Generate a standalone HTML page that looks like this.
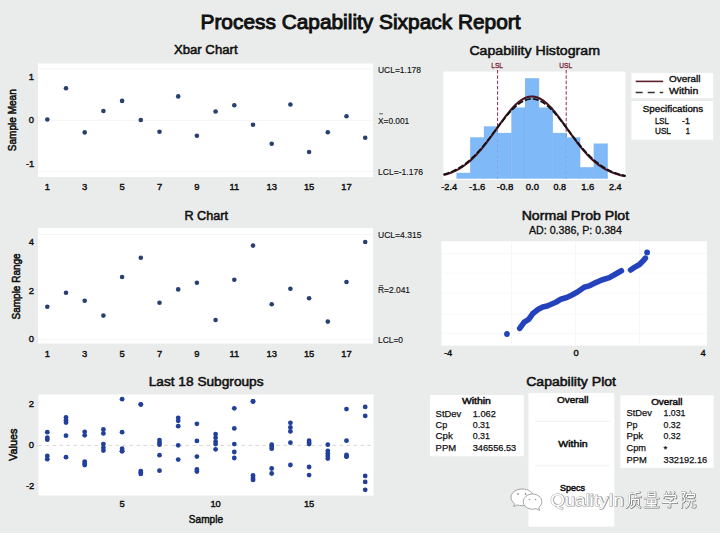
<!DOCTYPE html>
<html><head><meta charset="utf-8"><style>
html,body{margin:0;padding:0;background:#eaeceb;}
body{width:720px;height:533px;overflow:hidden;}
svg{display:block;font-family:"Liberation Sans", sans-serif;}
</style></head><body>
<svg width="720" height="533" viewBox="0 0 720 533">
<rect width="720" height="533" fill="#eaeceb"/>
<text x="200.5" y="29.1" font-size="20.6" text-anchor="start" fill="#111" stroke="#111" stroke-width="0.95" textLength="320.0" lengthAdjust="spacingAndGlyphs" >Process Capability Sixpack Report</text>
<rect x="38" y="63.5" width="335" height="113.5" fill="#fff"/>
<line x1="38" y1="69" x2="373" y2="69" stroke="#f4f5f5" stroke-width="1"/>
<line x1="38" y1="120.3" x2="373" y2="120.3" stroke="#f4f5f5" stroke-width="1"/>
<line x1="38" y1="171.6" x2="373" y2="171.6" stroke="#f4f5f5" stroke-width="1"/>
<text x="173.9" y="54.2" font-size="12.5" text-anchor="start" fill="#111" stroke="#111" stroke-width="0.52" textLength="63.7" lengthAdjust="spacingAndGlyphs" >Xbar Chart</text>
<circle cx="47.3" cy="119.5" r="2.3" fill="#283f72"/>
<circle cx="66.0" cy="88.3" r="2.3" fill="#283f72"/>
<circle cx="84.7" cy="132.4" r="2.3" fill="#283f72"/>
<circle cx="103.4" cy="111" r="2.3" fill="#283f72"/>
<circle cx="122.1" cy="100.9" r="2.3" fill="#283f72"/>
<circle cx="140.8" cy="120" r="2.3" fill="#283f72"/>
<circle cx="159.5" cy="131.8" r="2.3" fill="#283f72"/>
<circle cx="178.2" cy="96.4" r="2.3" fill="#283f72"/>
<circle cx="196.9" cy="135.8" r="2.3" fill="#283f72"/>
<circle cx="215.6" cy="111.5" r="2.3" fill="#283f72"/>
<circle cx="234.3" cy="105.2" r="2.3" fill="#283f72"/>
<circle cx="253.0" cy="124.7" r="2.3" fill="#283f72"/>
<circle cx="271.7" cy="143.75" r="2.3" fill="#283f72"/>
<circle cx="290.4" cy="104.5" r="2.3" fill="#283f72"/>
<circle cx="309.1" cy="152" r="2.3" fill="#283f72"/>
<circle cx="327.8" cy="132.3" r="2.3" fill="#283f72"/>
<circle cx="346.5" cy="116.3" r="2.3" fill="#283f72"/>
<circle cx="365.2" cy="137.8" r="2.3" fill="#283f72"/>
<text x="47.3" y="190.4" font-size="9.4" text-anchor="middle" fill="#111" stroke="#111" stroke-width="0.42" >1</text>
<text x="84.69999999999999" y="190.4" font-size="9.4" text-anchor="middle" fill="#111" stroke="#111" stroke-width="0.42" >3</text>
<text x="122.1" y="190.4" font-size="9.4" text-anchor="middle" fill="#111" stroke="#111" stroke-width="0.42" >5</text>
<text x="159.5" y="190.4" font-size="9.4" text-anchor="middle" fill="#111" stroke="#111" stroke-width="0.42" >7</text>
<text x="196.89999999999998" y="190.4" font-size="9.4" text-anchor="middle" fill="#111" stroke="#111" stroke-width="0.42" >9</text>
<text x="234.3" y="190.4" font-size="9.4" text-anchor="middle" fill="#111" stroke="#111" stroke-width="0.42" >11</text>
<text x="271.7" y="190.4" font-size="9.4" text-anchor="middle" fill="#111" stroke="#111" stroke-width="0.42" >13</text>
<text x="309.1" y="190.4" font-size="9.4" text-anchor="middle" fill="#111" stroke="#111" stroke-width="0.42" >15</text>
<text x="346.5" y="190.4" font-size="9.4" text-anchor="middle" fill="#111" stroke="#111" stroke-width="0.42" >17</text>
<text x="34" y="79.9" font-size="9.4" text-anchor="end" fill="#111" stroke="#111" stroke-width="0.42" >1</text>
<text x="34" y="123" font-size="9.4" text-anchor="end" fill="#111" stroke="#111" stroke-width="0.42" >0</text>
<text x="34.3" y="167.2" font-size="9.4" text-anchor="end" fill="#111" stroke="#111" stroke-width="0.42" >-1</text>
<text transform="translate(15.6,120.2) rotate(-90)" font-size="11" text-anchor="middle" fill="#111" stroke="#111" stroke-width="0.55" textLength="62" lengthAdjust="spacingAndGlyphs">Sample Mean</text>
<text x="378" y="72.6" font-size="9.2" text-anchor="start" fill="#111" stroke="#111" stroke-width="0.15" textLength="43" lengthAdjust="spacingAndGlyphs" >UCL=1.178</text>
<text x="378" y="123.7" font-size="9.2" text-anchor="start" fill="#111" stroke="#111" stroke-width="0.15" textLength="31.2" lengthAdjust="spacingAndGlyphs" >X=0.001</text>
<line x1="379.2" y1="113.8" x2="383" y2="113.8" stroke="#333" stroke-width="0.8"/>
<text x="378" y="175" font-size="9.2" text-anchor="start" fill="#111" stroke="#111" stroke-width="0.15" textLength="45" lengthAdjust="spacingAndGlyphs" >LCL=-1.176</text>
<rect x="38" y="228" width="335" height="115.5" fill="#fff"/>
<line x1="38" y1="234.5" x2="373" y2="234.5" stroke="#f4f5f5" stroke-width="1"/>
<line x1="38" y1="339.4" x2="373" y2="339.4" stroke="#f4f5f5" stroke-width="1"/>
<text x="184.4" y="219.7" font-size="12.5" text-anchor="start" fill="#111" stroke="#111" stroke-width="0.52" textLength="43.6" lengthAdjust="spacingAndGlyphs" >R Chart</text>
<circle cx="47.3" cy="306.7" r="2.3" fill="#283f72"/>
<circle cx="66.0" cy="292.8" r="2.3" fill="#283f72"/>
<circle cx="84.7" cy="300.8" r="2.3" fill="#283f72"/>
<circle cx="103.4" cy="315.6" r="2.3" fill="#283f72"/>
<circle cx="122.1" cy="277" r="2.3" fill="#283f72"/>
<circle cx="140.8" cy="257.8" r="2.3" fill="#283f72"/>
<circle cx="159.5" cy="302.8" r="2.3" fill="#283f72"/>
<circle cx="178.2" cy="289.4" r="2.3" fill="#283f72"/>
<circle cx="196.9" cy="282.8" r="2.3" fill="#283f72"/>
<circle cx="215.6" cy="320" r="2.3" fill="#283f72"/>
<circle cx="234.3" cy="279.7" r="2.3" fill="#283f72"/>
<circle cx="253.0" cy="245.6" r="2.3" fill="#283f72"/>
<circle cx="271.7" cy="304.3" r="2.3" fill="#283f72"/>
<circle cx="290.4" cy="288.7" r="2.3" fill="#283f72"/>
<circle cx="309.1" cy="298.3" r="2.3" fill="#283f72"/>
<circle cx="327.8" cy="321.6" r="2.3" fill="#283f72"/>
<circle cx="346.5" cy="282" r="2.3" fill="#283f72"/>
<circle cx="365.2" cy="242" r="2.3" fill="#283f72"/>
<text x="47.3" y="357.2" font-size="9.4" text-anchor="middle" fill="#111" stroke="#111" stroke-width="0.42" >1</text>
<text x="84.69999999999999" y="357.2" font-size="9.4" text-anchor="middle" fill="#111" stroke="#111" stroke-width="0.42" >3</text>
<text x="122.1" y="357.2" font-size="9.4" text-anchor="middle" fill="#111" stroke="#111" stroke-width="0.42" >5</text>
<text x="159.5" y="357.2" font-size="9.4" text-anchor="middle" fill="#111" stroke="#111" stroke-width="0.42" >7</text>
<text x="196.89999999999998" y="357.2" font-size="9.4" text-anchor="middle" fill="#111" stroke="#111" stroke-width="0.42" >9</text>
<text x="234.3" y="357.2" font-size="9.4" text-anchor="middle" fill="#111" stroke="#111" stroke-width="0.42" >11</text>
<text x="271.7" y="357.2" font-size="9.4" text-anchor="middle" fill="#111" stroke="#111" stroke-width="0.42" >13</text>
<text x="309.1" y="357.2" font-size="9.4" text-anchor="middle" fill="#111" stroke="#111" stroke-width="0.42" >15</text>
<text x="346.5" y="357.2" font-size="9.4" text-anchor="middle" fill="#111" stroke="#111" stroke-width="0.42" >17</text>
<text x="34" y="245.4" font-size="9.4" text-anchor="end" fill="#111" stroke="#111" stroke-width="0.42" >4</text>
<text x="34" y="294" font-size="9.4" text-anchor="end" fill="#111" stroke="#111" stroke-width="0.42" >2</text>
<text x="34" y="341.8" font-size="9.4" text-anchor="end" fill="#111" stroke="#111" stroke-width="0.42" >0</text>
<text transform="translate(20.1,286.4) rotate(-90)" font-size="11" text-anchor="middle" fill="#111" stroke="#111" stroke-width="0.55" textLength="66" lengthAdjust="spacingAndGlyphs">Sample Range</text>
<text x="378" y="238.3" font-size="9.2" text-anchor="start" fill="#111" stroke="#111" stroke-width="0.15" textLength="43.5" lengthAdjust="spacingAndGlyphs" >UCL=4.315</text>
<text x="378" y="292.9" font-size="9.2" text-anchor="start" fill="#111" stroke="#111" stroke-width="0.15" textLength="32" lengthAdjust="spacingAndGlyphs" >R=2.041</text>
<line x1="379.2" y1="285.6" x2="383.2" y2="285.6" stroke="#333" stroke-width="0.8"/>
<text x="378" y="342.5" font-size="9.2" text-anchor="start" fill="#111" stroke="#111" stroke-width="0.15" textLength="25" lengthAdjust="spacingAndGlyphs" >LCL=0</text>
<rect x="38.5" y="394.5" width="335" height="101" fill="#fff"/>
<line x1="38.5" y1="445.4" x2="373.5" y2="445.4" stroke="#d6d0cc" stroke-width="0.9" stroke-dasharray="3.5,3.5"/>
<text x="148.7" y="385.8" font-size="12.5" text-anchor="start" fill="#111" stroke="#111" stroke-width="0.52" textLength="114.9" lengthAdjust="spacingAndGlyphs" >Last 18 Subgroups</text>
<circle cx="47.3" cy="432.2" r="2.4" fill="#22409a"/>
<circle cx="47.3" cy="437.7" r="2.4" fill="#22409a"/>
<circle cx="47.3" cy="439.7" r="2.4" fill="#22409a"/>
<circle cx="47.3" cy="456" r="2.4" fill="#22409a"/>
<circle cx="47.3" cy="459.2" r="2.4" fill="#22409a"/>
<circle cx="66.0" cy="417.5" r="2.4" fill="#22409a"/>
<circle cx="66.0" cy="420.3" r="2.4" fill="#22409a"/>
<circle cx="66.0" cy="422.5" r="2.4" fill="#22409a"/>
<circle cx="66.0" cy="435.7" r="2.4" fill="#22409a"/>
<circle cx="66.0" cy="457.2" r="2.4" fill="#22409a"/>
<circle cx="84.7" cy="431.8" r="2.4" fill="#22409a"/>
<circle cx="84.7" cy="435.3" r="2.4" fill="#22409a"/>
<circle cx="84.7" cy="461.6" r="2.4" fill="#22409a"/>
<circle cx="84.7" cy="463.8" r="2.4" fill="#22409a"/>
<circle cx="84.7" cy="465" r="2.4" fill="#22409a"/>
<circle cx="103.4" cy="429.4" r="2.4" fill="#22409a"/>
<circle cx="103.4" cy="433.4" r="2.4" fill="#22409a"/>
<circle cx="103.4" cy="444.1" r="2.4" fill="#22409a"/>
<circle cx="103.4" cy="447.7" r="2.4" fill="#22409a"/>
<circle cx="103.4" cy="450.6" r="2.4" fill="#22409a"/>
<circle cx="122.1" cy="399.2" r="2.4" fill="#22409a"/>
<circle cx="122.1" cy="432.2" r="2.4" fill="#22409a"/>
<circle cx="122.1" cy="448.7" r="2.4" fill="#22409a"/>
<circle cx="122.1" cy="451.2" r="2.4" fill="#22409a"/>
<circle cx="122.1" cy="451.2" r="2.4" fill="#22409a"/>
<circle cx="140.8" cy="404.3" r="2.4" fill="#22409a"/>
<circle cx="140.8" cy="404.6" r="2.4" fill="#22409a"/>
<circle cx="140.8" cy="471.1" r="2.4" fill="#22409a"/>
<circle cx="140.8" cy="472.5" r="2.4" fill="#22409a"/>
<circle cx="140.8" cy="473.9" r="2.4" fill="#22409a"/>
<circle cx="159.5" cy="440.1" r="2.4" fill="#22409a"/>
<circle cx="159.5" cy="442.7" r="2.4" fill="#22409a"/>
<circle cx="159.5" cy="444.7" r="2.4" fill="#22409a"/>
<circle cx="159.5" cy="455.2" r="2.4" fill="#22409a"/>
<circle cx="159.5" cy="470.7" r="2.4" fill="#22409a"/>
<circle cx="178.2" cy="417.8" r="2.4" fill="#22409a"/>
<circle cx="178.2" cy="420.8" r="2.4" fill="#22409a"/>
<circle cx="178.2" cy="426.2" r="2.4" fill="#22409a"/>
<circle cx="178.2" cy="445.3" r="2.4" fill="#22409a"/>
<circle cx="178.2" cy="459.6" r="2.4" fill="#22409a"/>
<circle cx="196.9" cy="423.8" r="2.4" fill="#22409a"/>
<circle cx="196.9" cy="440.9" r="2.4" fill="#22409a"/>
<circle cx="196.9" cy="456.6" r="2.4" fill="#22409a"/>
<circle cx="196.9" cy="469.5" r="2.4" fill="#22409a"/>
<circle cx="196.9" cy="471.5" r="2.4" fill="#22409a"/>
<circle cx="215.6" cy="434.1" r="2.4" fill="#22409a"/>
<circle cx="215.6" cy="437.7" r="2.4" fill="#22409a"/>
<circle cx="215.6" cy="441.7" r="2.4" fill="#22409a"/>
<circle cx="215.6" cy="444.1" r="2.4" fill="#22409a"/>
<circle cx="215.6" cy="449.3" r="2.4" fill="#22409a"/>
<circle cx="234.3" cy="408.3" r="2.4" fill="#22409a"/>
<circle cx="234.3" cy="428.4" r="2.4" fill="#22409a"/>
<circle cx="234.3" cy="444.1" r="2.4" fill="#22409a"/>
<circle cx="234.3" cy="452" r="2.4" fill="#22409a"/>
<circle cx="234.3" cy="458" r="2.4" fill="#22409a"/>
<circle cx="253.0" cy="401.3" r="2.4" fill="#22409a"/>
<circle cx="253.0" cy="401.5" r="2.4" fill="#22409a"/>
<circle cx="253.0" cy="475.5" r="2.4" fill="#22409a"/>
<circle cx="253.0" cy="477.9" r="2.4" fill="#22409a"/>
<circle cx="253.0" cy="479.9" r="2.4" fill="#22409a"/>
<circle cx="271.7" cy="444.7" r="2.4" fill="#22409a"/>
<circle cx="271.7" cy="446.7" r="2.4" fill="#22409a"/>
<circle cx="271.7" cy="448.7" r="2.4" fill="#22409a"/>
<circle cx="271.7" cy="468.5" r="2.4" fill="#22409a"/>
<circle cx="271.7" cy="473.5" r="2.4" fill="#22409a"/>
<circle cx="290.4" cy="422.8" r="2.4" fill="#22409a"/>
<circle cx="290.4" cy="427.4" r="2.4" fill="#22409a"/>
<circle cx="290.4" cy="431.4" r="2.4" fill="#22409a"/>
<circle cx="290.4" cy="442.7" r="2.4" fill="#22409a"/>
<circle cx="290.4" cy="465" r="2.4" fill="#22409a"/>
<circle cx="309.1" cy="440.7" r="2.4" fill="#22409a"/>
<circle cx="309.1" cy="442.7" r="2.4" fill="#22409a"/>
<circle cx="309.1" cy="444.1" r="2.4" fill="#22409a"/>
<circle cx="309.1" cy="467" r="2.4" fill="#22409a"/>
<circle cx="309.1" cy="475.1" r="2.4" fill="#22409a"/>
<circle cx="327.8" cy="444.7" r="2.4" fill="#22409a"/>
<circle cx="327.8" cy="451" r="2.4" fill="#22409a"/>
<circle cx="327.8" cy="453.6" r="2.4" fill="#22409a"/>
<circle cx="327.8" cy="456" r="2.4" fill="#22409a"/>
<circle cx="327.8" cy="458.6" r="2.4" fill="#22409a"/>
<circle cx="346.5" cy="409.1" r="2.4" fill="#22409a"/>
<circle cx="346.5" cy="440.7" r="2.4" fill="#22409a"/>
<circle cx="346.5" cy="455" r="2.4" fill="#22409a"/>
<circle cx="346.5" cy="456.6" r="2.4" fill="#22409a"/>
<circle cx="346.5" cy="456.6" r="2.4" fill="#22409a"/>
<circle cx="365.2" cy="406.9" r="2.4" fill="#22409a"/>
<circle cx="365.2" cy="415.9" r="2.4" fill="#22409a"/>
<circle cx="365.2" cy="475.9" r="2.4" fill="#22409a"/>
<circle cx="365.2" cy="481.9" r="2.4" fill="#22409a"/>
<circle cx="365.2" cy="489.8" r="2.4" fill="#22409a"/>
<text x="122.1" y="507.3" font-size="9.4" text-anchor="middle" fill="#111" stroke="#111" stroke-width="0.42" >5</text>
<text x="215.59999999999997" y="507.3" font-size="9.4" text-anchor="middle" fill="#111" stroke="#111" stroke-width="0.42" >10</text>
<text x="309.1" y="507.3" font-size="9.4" text-anchor="middle" fill="#111" stroke="#111" stroke-width="0.42" >15</text>
<text x="34" y="407.2" font-size="9.4" text-anchor="end" fill="#111" stroke="#111" stroke-width="0.42" >2</text>
<text x="34" y="447.9" font-size="9.4" text-anchor="end" fill="#111" stroke="#111" stroke-width="0.42" >0</text>
<text x="34.3" y="488.9" font-size="9.4" text-anchor="end" fill="#111" stroke="#111" stroke-width="0.42" >-2</text>
<text x="188.8" y="522.5" font-size="11" text-anchor="start" fill="#111" stroke="#111" stroke-width="0.5" textLength="34.2" lengthAdjust="spacingAndGlyphs" >Sample</text>
<text transform="translate(17.2,444.8) rotate(-90)" font-size="11" text-anchor="middle" fill="#111" stroke="#111" stroke-width="0.55" textLength="32.5" lengthAdjust="spacingAndGlyphs">Values</text>
<text x="469.4" y="54.6" font-size="12.5" text-anchor="start" fill="#111" stroke="#111" stroke-width="0.52" textLength="130.6" lengthAdjust="spacingAndGlyphs" >Capability Histogram</text>
<rect x="443.4" y="71.6" width="182" height="108.4" fill="#fff"/>
<line x1="497.60" y1="70" x2="497.60" y2="178.7" stroke="#9a2a50" stroke-width="1" stroke-dasharray="3.5,1.8"/>
<line x1="566.20" y1="70" x2="566.20" y2="178.7" stroke="#9a2a50" stroke-width="1" stroke-dasharray="3.5,1.8"/>
<rect x="456.44" y="172.80" width="13.72" height="5.90" fill="#7fb9f7"/>
<line x1="470.16" y1="172.80" x2="470.16" y2="178.7" stroke="#70aaee" stroke-width="0.6"/>
<rect x="470.16" y="137.30" width="13.72" height="41.40" fill="#7fb9f7"/>
<line x1="483.88" y1="137.30" x2="483.88" y2="178.7" stroke="#70aaee" stroke-width="0.6"/>
<rect x="483.88" y="126.30" width="13.72" height="52.40" fill="#7fb9f7"/>
<line x1="497.60" y1="126.30" x2="497.60" y2="178.7" stroke="#70aaee" stroke-width="0.6"/>
<rect x="497.60" y="132.90" width="13.72" height="45.80" fill="#7fb9f7"/>
<line x1="511.32" y1="132.90" x2="511.32" y2="178.7" stroke="#70aaee" stroke-width="0.6"/>
<rect x="511.32" y="107.50" width="13.72" height="71.20" fill="#7fb9f7"/>
<line x1="525.04" y1="107.50" x2="525.04" y2="178.7" stroke="#70aaee" stroke-width="0.6"/>
<rect x="525.04" y="78.20" width="13.72" height="100.50" fill="#7fb9f7"/>
<line x1="538.76" y1="78.20" x2="538.76" y2="178.7" stroke="#70aaee" stroke-width="0.6"/>
<rect x="538.76" y="107.50" width="13.72" height="71.20" fill="#7fb9f7"/>
<line x1="552.48" y1="107.50" x2="552.48" y2="178.7" stroke="#70aaee" stroke-width="0.6"/>
<rect x="552.48" y="132.90" width="13.72" height="45.80" fill="#7fb9f7"/>
<line x1="566.20" y1="132.90" x2="566.20" y2="178.7" stroke="#70aaee" stroke-width="0.6"/>
<rect x="566.20" y="137.30" width="13.72" height="41.40" fill="#7fb9f7"/>
<line x1="579.92" y1="137.30" x2="579.92" y2="178.7" stroke="#70aaee" stroke-width="0.6"/>
<rect x="579.92" y="167.20" width="13.72" height="11.50" fill="#7fb9f7"/>
<line x1="593.64" y1="167.20" x2="593.64" y2="178.7" stroke="#70aaee" stroke-width="0.6"/>
<rect x="593.64" y="143.50" width="13.72" height="35.20" fill="#7fb9f7"/>
<line x1="607.36" y1="143.50" x2="607.36" y2="178.7" stroke="#70aaee" stroke-width="0.6"/>
<text x="491.2" y="68.4" font-size="8" text-anchor="start" fill="#7a1a3a" stroke="#7a1a3a" stroke-width="0.3" textLength="11.8" lengthAdjust="spacingAndGlyphs" >LSL</text>
<text x="559.3" y="68.4" font-size="8" text-anchor="start" fill="#7a1a3a" stroke="#7a1a3a" stroke-width="0.3" textLength="12.9" lengthAdjust="spacingAndGlyphs" >USL</text>
<polyline points="443.6,175.06 444.6,174.80 445.6,174.52 446.6,174.22 447.6,173.90 448.6,173.57 449.6,173.22 450.6,172.85 451.6,172.46 452.6,172.05 453.6,171.62 454.6,171.16 455.6,170.68 456.6,170.18 457.6,169.66 458.6,169.11 459.6,168.53 460.6,167.93 461.6,167.30 462.6,166.65 463.6,165.97 464.6,165.26 465.6,164.52 466.6,163.76 467.6,162.96 468.6,162.14 469.6,161.28 470.6,160.40 471.6,159.49 472.6,158.55 473.6,157.58 474.6,156.58 475.6,155.55 476.6,154.50 477.6,153.41 478.6,152.30 479.6,151.16 480.6,150.00 481.6,148.81 482.6,147.59 483.6,146.36 484.6,145.10 485.6,143.81 486.6,142.51 487.6,141.19 488.6,139.86 489.6,138.50 490.6,137.14 491.6,135.76 492.6,134.37 493.6,132.97 494.6,131.57 495.6,130.16 496.6,128.75 497.6,127.34 498.6,125.94 499.6,124.54 500.6,123.14 501.6,121.76 502.6,120.38 503.6,119.02 504.6,117.68 505.6,116.36 506.6,115.06 507.6,113.79 508.6,112.54 509.6,111.32 510.6,110.14 511.6,108.99 512.6,107.87 513.6,106.80 514.6,105.77 515.6,104.78 516.6,103.84 517.6,102.95 518.6,102.11 519.6,101.32 520.6,100.59 521.6,99.91 522.6,99.29 523.6,98.73 524.6,98.23 525.6,97.79 526.6,97.42 527.6,97.11 528.6,96.86 529.6,96.67 530.6,96.56 531.6,96.50 532.6,96.52 533.6,96.59 534.6,96.74 535.6,96.95 536.6,97.22 537.6,97.56 538.6,97.96 539.6,98.43 540.6,98.95 541.6,99.53 542.6,100.18 543.6,100.88 544.6,101.63 545.6,102.44 546.6,103.30 547.6,104.21 548.6,105.17 549.6,106.18 550.6,107.23 551.6,108.31 552.6,109.44 553.6,110.61 554.6,111.80 555.6,113.03 556.6,114.29 557.6,115.58 558.6,116.89 559.6,118.22 560.6,119.56 561.6,120.93 562.6,122.31 563.6,123.70 564.6,125.10 565.6,126.50 566.6,127.91 567.6,129.32 568.6,130.73 569.6,132.13 570.6,133.53 571.6,134.93 572.6,136.31 573.6,137.69 574.6,139.05 575.6,140.39 576.6,141.72 577.6,143.04 578.6,144.33 579.6,145.60 580.6,146.85 581.6,148.08 582.6,149.29 583.6,150.47 584.6,151.62 585.6,152.75 586.6,153.85 587.6,154.92 588.6,155.97 589.6,156.98 590.6,157.97 591.6,158.93 592.6,159.86 593.6,160.76 594.6,161.63 595.6,162.47 596.6,163.28 597.6,164.07 598.6,164.82 599.6,165.55 600.6,166.24 601.6,166.92 602.6,167.56 603.6,168.18 604.6,168.77 605.6,169.33 606.6,169.87 607.6,170.39 608.6,170.88 609.6,171.35 610.6,171.79 611.6,172.22 612.6,172.62 613.6,173.00 614.6,173.36 615.6,173.71 616.6,174.03 617.6,174.34 618.6,174.63 619.6,174.90 620.6,175.16 621.6,175.41 622.6,175.64 623.6,175.85 624.6,176.05 625.6,176.24" fill="none" stroke="#4a1420" stroke-width="2.1"/>
<polyline points="443.6,174.47 444.6,174.18 445.6,173.88 446.6,173.56 447.6,173.22 448.6,172.86 449.6,172.48 450.6,172.09 451.6,171.67 452.6,171.24 453.6,170.78 454.6,170.30 455.6,169.80 456.6,169.28 457.6,168.73 458.6,168.16 459.6,167.57 460.6,166.95 461.6,166.31 462.6,165.64 463.6,164.94 464.6,164.22 465.6,163.47 466.6,162.70 467.6,161.90 468.6,161.07 469.6,160.21 470.6,159.33 471.6,158.43 472.6,157.49 473.6,156.53 474.6,155.54 475.6,154.53 476.6,153.49 477.6,152.43 478.6,151.34 479.6,150.23 480.6,149.10 481.6,147.94 482.6,146.77 483.6,145.57 484.6,144.35 485.6,143.12 486.6,141.87 487.6,140.61 488.6,139.33 489.6,138.04 490.6,136.74 491.6,135.43 492.6,134.11 493.6,132.79 494.6,131.46 495.6,130.13 496.6,128.80 497.6,127.48 498.6,126.15 499.6,124.84 500.6,123.53 501.6,122.24 502.6,120.96 503.6,119.69 504.6,118.44 505.6,117.21 506.6,116.00 507.6,114.82 508.6,113.66 509.6,112.54 510.6,111.44 511.6,110.38 512.6,109.35 513.6,108.36 514.6,107.41 515.6,106.50 516.6,105.64 517.6,104.82 518.6,104.05 519.6,103.32 520.6,102.65 521.6,102.03 522.6,101.46 523.6,100.94 524.6,100.49 525.6,100.08 526.6,99.74 527.6,99.45 528.6,99.23 529.6,99.06 530.6,98.95 531.6,98.90 532.6,98.91 533.6,98.99 534.6,99.12 535.6,99.31 536.6,99.56 537.6,99.87 538.6,100.24 539.6,100.66 540.6,101.14 541.6,101.68 542.6,102.27 543.6,102.91 544.6,103.61 545.6,104.35 546.6,105.14 547.6,105.98 548.6,106.86 549.6,107.79 550.6,108.75 551.6,109.76 552.6,110.80 553.6,111.87 554.6,112.98 555.6,114.12 556.6,115.29 557.6,116.48 558.6,117.70 559.6,118.94 560.6,120.19 561.6,121.47 562.6,122.75 563.6,124.05 564.6,125.36 565.6,126.68 566.6,128.01 567.6,129.33 568.6,130.66 569.6,131.99 570.6,133.32 571.6,134.64 572.6,135.95 573.6,137.26 574.6,138.56 575.6,139.84 576.6,141.11 577.6,142.37 578.6,143.62 579.6,144.84 580.6,146.05 581.6,147.24 582.6,148.41 583.6,149.55 584.6,150.68 585.6,151.78 586.6,152.86 587.6,153.91 588.6,154.94 589.6,155.94 590.6,156.92 591.6,157.87 592.6,158.79 593.6,159.69 594.6,160.56 595.6,161.40 596.6,162.22 597.6,163.01 598.6,163.77 599.6,164.51 600.6,165.22 601.6,165.91 602.6,166.57 603.6,167.20 604.6,167.81 605.6,168.39 606.6,168.95 607.6,169.49 608.6,170.01 609.6,170.50 610.6,170.97 611.6,171.41 612.6,171.84 613.6,172.25 614.6,172.64 615.6,173.00 616.6,173.35 617.6,173.69 618.6,174.00 619.6,174.30 620.6,174.58 621.6,174.85 622.6,175.10 623.6,175.34 624.6,175.57 625.6,175.78" fill="none" stroke="#111" stroke-width="1.7" stroke-dasharray="6,2"/>
<text x="441.3" y="190.1" font-size="9.4" text-anchor="start" fill="#111" stroke="#111" stroke-width="0.42" textLength="15.9" lengthAdjust="spacingAndGlyphs" >-2.4</text>
<text x="469" y="190.1" font-size="9.4" text-anchor="start" fill="#111" stroke="#111" stroke-width="0.42" textLength="16.4" lengthAdjust="spacingAndGlyphs" >-1.6</text>
<text x="496.7" y="190.1" font-size="9.4" text-anchor="start" fill="#111" stroke="#111" stroke-width="0.42" textLength="16.7" lengthAdjust="spacingAndGlyphs" >-0.8</text>
<text x="525.8" y="190.1" font-size="9.4" text-anchor="start" fill="#111" stroke="#111" stroke-width="0.42" textLength="13.2" lengthAdjust="spacingAndGlyphs" >0.0</text>
<text x="553.5" y="190.1" font-size="9.4" text-anchor="start" fill="#111" stroke="#111" stroke-width="0.42" textLength="12.5" lengthAdjust="spacingAndGlyphs" >0.8</text>
<text x="581.2" y="190.1" font-size="9.4" text-anchor="start" fill="#111" stroke="#111" stroke-width="0.42" textLength="13.2" lengthAdjust="spacingAndGlyphs" >1.6</text>
<text x="608.9" y="190.1" font-size="9.4" text-anchor="start" fill="#111" stroke="#111" stroke-width="0.42" textLength="12.6" lengthAdjust="spacingAndGlyphs" >2.4</text>
<rect x="631.5" y="72.9" width="81.6" height="25.3" fill="#fff"/>
<line x1="635.7" y1="81.4" x2="663.2" y2="81.4" stroke="#5a2030" stroke-width="1.6"/>
<line x1="635.7" y1="92.6" x2="663.2" y2="92.6" stroke="#333" stroke-width="1.5" stroke-dasharray="7,5"/>
<text x="669" y="82.3" font-size="8.8" text-anchor="start" fill="#111" stroke="#111" stroke-width="0.35" textLength="31.4" lengthAdjust="spacingAndGlyphs" >Overall</text>
<text x="669" y="94" font-size="8.8" text-anchor="start" fill="#111" stroke="#111" stroke-width="0.35" textLength="29.3" lengthAdjust="spacingAndGlyphs" >Within</text>
<rect x="631.5" y="101" width="81.6" height="38.7" fill="#fff"/>
<text x="642.8" y="111.6" font-size="8.8" text-anchor="start" fill="#111" stroke="#111" stroke-width="0.35" textLength="60.4" lengthAdjust="spacingAndGlyphs" >Specifications</text>
<text x="655" y="123.6" font-size="8.8" text-anchor="start" fill="#111" stroke="#111" stroke-width="0.35" textLength="13.8" lengthAdjust="spacingAndGlyphs" >LSL</text>
<text x="682.1" y="123.6" font-size="8.8" text-anchor="start" fill="#111" stroke="#111" stroke-width="0.35" textLength="7.8" lengthAdjust="spacingAndGlyphs" >-1</text>
<text x="655" y="134.4" font-size="8.8" text-anchor="start" fill="#111" stroke="#111" stroke-width="0.35" textLength="15.9" lengthAdjust="spacingAndGlyphs" >USL</text>
<text x="685.7" y="134.4" font-size="8.8" text-anchor="start" fill="#111" stroke="#111" stroke-width="0.35" textLength="4.2" lengthAdjust="spacingAndGlyphs" >1</text>
<text x="521.7" y="219.8" font-size="12.5" text-anchor="start" fill="#111" stroke="#111" stroke-width="0.52" textLength="107.4" lengthAdjust="spacingAndGlyphs" >Normal Prob Plot</text>
<text x="529" y="234.2" font-size="10" text-anchor="start" fill="#111" stroke="#111" stroke-width="0.3" textLength="92.9" lengthAdjust="spacingAndGlyphs" >AD: 0.386, P: 0.384</text>
<rect x="441.5" y="241.3" width="265.5" height="104.3" fill="#fff"/>
<line x1="511.5" y1="241.3" x2="511.5" y2="345.6" stroke="#f7f7f9" stroke-width="1"/>
<line x1="575.6" y1="241.3" x2="575.6" y2="345.6" stroke="#f7f7f9" stroke-width="1"/>
<line x1="639.7" y1="241.3" x2="639.7" y2="345.6" stroke="#f7f7f9" stroke-width="1"/>
<line x1="441.5" y1="253.6" x2="707" y2="253.6" stroke="#f8f8fa" stroke-width="1"/>
<line x1="441.5" y1="273" x2="707" y2="273" stroke="#f8f8fa" stroke-width="1"/>
<line x1="441.5" y1="293" x2="707" y2="293" stroke="#f8f8fa" stroke-width="1"/>
<line x1="441.5" y1="313.9" x2="707" y2="313.9" stroke="#f8f8fa" stroke-width="1"/>
<line x1="441.5" y1="333.3" x2="707" y2="333.3" stroke="#f8f8fa" stroke-width="1"/>
<polyline points="519.7,328.4 524.2,322.2 528.7,319.4 532.6,313.8 538.3,309.3 542.8,307 547.3,306 551.8,304 556.3,302 560.8,299.2 566.7,297.5 571.5,295.2 577.4,292 584.2,287.2 590,285.6 595.8,282.6 601.7,280 609.4,277.6 615.3,274.2 621.4,270.8" fill="none" stroke="#2342bc" stroke-width="5.6" stroke-linecap="round" stroke-linejoin="round"/>
<polyline points="630.6,270 634.4,267.4 639.5,264.5 642.9,261.1 645.4,258.2" fill="none" stroke="#2342bc" stroke-width="5.6" stroke-linecap="round" stroke-linejoin="round"/>
<circle cx="507" cy="334" r="2.9" fill="#2342bc"/>
<circle cx="647.1" cy="252.5" r="2.9" fill="#2342bc"/>
<text x="448.1" y="356.4" font-size="9.4" text-anchor="middle" fill="#111" stroke="#111" stroke-width="0.42" >-4</text>
<text x="576" y="356.4" font-size="9.4" text-anchor="middle" fill="#111" stroke="#111" stroke-width="0.42" >0</text>
<text x="703" y="356.4" font-size="9.4" text-anchor="middle" fill="#111" stroke="#111" stroke-width="0.42" >4</text>
<text x="526.2" y="385.9" font-size="12.5" text-anchor="start" fill="#111" stroke="#111" stroke-width="0.52" textLength="89.8" lengthAdjust="spacingAndGlyphs" >Capability Plot</text>
<rect x="430" y="395" width="93.8" height="61.2" fill="#fff"/>
<text x="462" y="404.4" font-size="9.2" text-anchor="start" fill="#111" stroke="#111" stroke-width="0.5" textLength="28.8" lengthAdjust="spacingAndGlyphs" >Within</text>
<text x="435.6" y="416.6" font-size="9.9" text-anchor="start" fill="#111" stroke="#111" stroke-width="0.25" textLength="25.7" lengthAdjust="spacingAndGlyphs" >StDev</text>
<text x="472.7" y="416.6" font-size="9.9" text-anchor="start" fill="#111" stroke="#111" stroke-width="0.25" textLength="23.1" lengthAdjust="spacingAndGlyphs" >1.062</text>
<text x="435.6" y="427.95000000000005" font-size="9.9" text-anchor="start" fill="#111" stroke="#111" stroke-width="0.25" textLength="11.6" lengthAdjust="spacingAndGlyphs" >Cp</text>
<text x="472.7" y="427.95000000000005" font-size="9.9" text-anchor="start" fill="#111" stroke="#111" stroke-width="0.25" textLength="17.3" lengthAdjust="spacingAndGlyphs" >0.31</text>
<text x="435.6" y="439.3" font-size="9.9" text-anchor="start" fill="#111" stroke="#111" stroke-width="0.25" textLength="17.2" lengthAdjust="spacingAndGlyphs" >Cpk</text>
<text x="472.7" y="439.3" font-size="9.9" text-anchor="start" fill="#111" stroke="#111" stroke-width="0.25" textLength="17.3" lengthAdjust="spacingAndGlyphs" >0.31</text>
<text x="435.6" y="450.65000000000003" font-size="9.9" text-anchor="start" fill="#111" stroke="#111" stroke-width="0.25" textLength="20.5" lengthAdjust="spacingAndGlyphs" >PPM</text>
<text x="472.7" y="450.65000000000003" font-size="9.9" text-anchor="start" fill="#111" stroke="#111" stroke-width="0.25" textLength="43.5" lengthAdjust="spacingAndGlyphs" >346556.53</text>
<rect x="528.5" y="393" width="85.8" height="133.6" fill="#fff"/>
<line x1="535" y1="421.3" x2="610" y2="421.3" stroke="#f0f0f0" stroke-width="1"/>
<line x1="535" y1="465.8" x2="610" y2="465.8" stroke="#f0f0f0" stroke-width="1"/>
<text x="557" y="402.6" font-size="9.2" text-anchor="start" fill="#111" stroke="#111" stroke-width="0.5" textLength="31.4" lengthAdjust="spacingAndGlyphs" >Overall</text>
<text x="558.3" y="447.1" font-size="9.2" text-anchor="start" fill="#111" stroke="#111" stroke-width="0.5" textLength="29.3" lengthAdjust="spacingAndGlyphs" >Within</text>
<text x="559.9" y="491" font-size="9.2" text-anchor="start" fill="#111" stroke="#111" stroke-width="0.5" textLength="25.0" lengthAdjust="spacingAndGlyphs" >Specs</text>
<rect x="620.4" y="395.4" width="93.1" height="72.4" fill="#fff"/>
<text x="651.2" y="404.6" font-size="9.2" text-anchor="start" fill="#111" stroke="#111" stroke-width="0.5" textLength="31.2" lengthAdjust="spacingAndGlyphs" >Overall</text>
<text x="626.5" y="416.2" font-size="9.9" text-anchor="start" fill="#111" stroke="#111" stroke-width="0.25" textLength="25.5" lengthAdjust="spacingAndGlyphs" >StDev</text>
<text x="663.5" y="416.2" font-size="9.9" text-anchor="start" fill="#111" stroke="#111" stroke-width="0.25" textLength="22.0" lengthAdjust="spacingAndGlyphs" >1.031</text>
<text x="626.5" y="427.8" font-size="9.9" text-anchor="start" fill="#111" stroke="#111" stroke-width="0.25" textLength="11.0" lengthAdjust="spacingAndGlyphs" >Pp</text>
<text x="663.5" y="427.8" font-size="9.9" text-anchor="start" fill="#111" stroke="#111" stroke-width="0.25" textLength="17.1" lengthAdjust="spacingAndGlyphs" >0.32</text>
<text x="626.5" y="439.4" font-size="9.9" text-anchor="start" fill="#111" stroke="#111" stroke-width="0.25" textLength="16.7" lengthAdjust="spacingAndGlyphs" >Ppk</text>
<text x="663.5" y="439.4" font-size="9.9" text-anchor="start" fill="#111" stroke="#111" stroke-width="0.25" textLength="17.1" lengthAdjust="spacingAndGlyphs" >0.32</text>
<text x="626.5" y="451.0" font-size="9.9" text-anchor="start" fill="#111" stroke="#111" stroke-width="0.25" textLength="19.5" lengthAdjust="spacingAndGlyphs" >Cpm</text>
<text x="663.5" y="452.0" font-size="9.9" text-anchor="start" fill="#111" stroke="#111" stroke-width="0.25" >*</text>
<text x="626.5" y="462.59999999999997" font-size="9.9" text-anchor="start" fill="#111" stroke="#111" stroke-width="0.25" textLength="20.3" lengthAdjust="spacingAndGlyphs" >PPM</text>
<text x="663.5" y="462.59999999999997" font-size="9.9" text-anchor="start" fill="#111" stroke="#111" stroke-width="0.25" textLength="43.7" lengthAdjust="spacingAndGlyphs" >332192.16</text>
<g fill="none" stroke="#767676" stroke-width="2.2" stroke-linecap="round" stroke-linejoin="round">
<path transform="translate(625.9,491.7)" d="M14,0.8 L4,2.2 M4,2.2 L4,9 Q3.8,13.5 1,16 M9.5,2.2 L9.5,6 M9.5,5.5 L15,5.5 M6,8 L13,8 L13,13 M6,8 L6,13 M9.5,8 L9.5,11.5 Q9,14.5 5.5,16 M11,13.5 L14.5,16"/>
<path transform="translate(643.8,491.7)" d="M4.5,0.8 L11.5,0.8 L11.5,5 L4.5,5 Z M4.5,2.9 L11.5,2.9 M1,6.8 L15,6.8 M3.5,8.5 L12.5,8.5 L12.5,12.3 L3.5,12.3 Z M3.5,10.4 L12.5,10.4 M8,8.5 L8,15.5 M4,13.9 L12,13.9 M1,15.6 L15,15.6"/>
<path transform="translate(662.0999999999999,491.7)" d="M4,0.8 L5.2,3 M8,0.3 L8.3,2.6 M12.3,0.8 L11,3 M2,6.5 L2,4.2 L14,4.2 L14,6.5 M5,7.2 L11,7.2 L8.2,9.3 M8.2,9.3 L8.2,15.3 Q8.1,16 6.3,15.6 M1,11.3 L15,11.3"/>
<path transform="translate(679.9,491.7)" d="M2.2,16 L2.2,1 L5.6,1 L3.6,5 Q6.2,8 4.2,10.5 L3.2,10.5 M10.2,0 L10.8,1.8 M6.8,5 L6.8,3 L15,3 L15,5 M8,6.3 L14,6.3 M6.5,8.8 L15.3,8.8 M9.6,8.8 Q9.8,13.8 6.5,16 M12.2,8.8 L12.2,14.8 Q12.3,15.6 13.5,15.6 L15.5,15.6 L15.5,13.5"/>
</g>
<text x="550.5" y="506.1" font-size="17.2" fill="#fff" stroke="#767676" stroke-width="1.15" stroke-linejoin="round" textLength="73.5" lengthAdjust="spacingAndGlyphs">QualityIn</text>
<g fill="none" stroke="#ffffff" stroke-width="1.25" stroke-linecap="round" stroke-linejoin="round">
<path transform="translate(625.6,491.4)" d="M14,0.8 L4,2.2 M4,2.2 L4,9 Q3.8,13.5 1,16 M9.5,2.2 L9.5,6 M9.5,5.5 L15,5.5 M6,8 L13,8 L13,13 M6,8 L6,13 M9.5,8 L9.5,11.5 Q9,14.5 5.5,16 M11,13.5 L14.5,16"/>
<path transform="translate(643.5,491.4)" d="M4.5,0.8 L11.5,0.8 L11.5,5 L4.5,5 Z M4.5,2.9 L11.5,2.9 M1,6.8 L15,6.8 M3.5,8.5 L12.5,8.5 L12.5,12.3 L3.5,12.3 Z M3.5,10.4 L12.5,10.4 M8,8.5 L8,15.5 M4,13.9 L12,13.9 M1,15.6 L15,15.6"/>
<path transform="translate(661.8,491.4)" d="M4,0.8 L5.2,3 M8,0.3 L8.3,2.6 M12.3,0.8 L11,3 M2,6.5 L2,4.2 L14,4.2 L14,6.5 M5,7.2 L11,7.2 L8.2,9.3 M8.2,9.3 L8.2,15.3 Q8.1,16 6.3,15.6 M1,11.3 L15,11.3"/>
<path transform="translate(679.6,491.4)" d="M2.2,16 L2.2,1 L5.6,1 L3.6,5 Q6.2,8 4.2,10.5 L3.2,10.5 M10.2,0 L10.8,1.8 M6.8,5 L6.8,3 L15,3 L15,5 M8,6.3 L14,6.3 M6.5,8.8 L15.3,8.8 M9.6,8.8 Q9.8,13.8 6.5,16 M12.2,8.8 L12.2,14.8 Q12.3,15.6 13.5,15.6 L15.5,15.6 L15.5,13.5"/>
</g>
<text x="550.2" y="505.8" font-size="17.2" fill="#fff" stroke="#ffffff" stroke-width="0.3" stroke-linejoin="round" textLength="73.5" lengthAdjust="spacingAndGlyphs">QualityIn</text>
<g stroke="#9a9a9a" stroke-width="0.9" fill="#fff">
<path d="M522.3,489 C516,489 511,492.6 511,497.3 C511,499.9 512.4,502.1 514.6,503.6 L513.7,506.6 L517.2,504.9 C518.8,505.4 520.5,505.7 522.3,505.7 C528.6,505.7 533.6,502 533.6,497.3 C533.6,492.6 528.6,489 522.3,489 Z"/>
<path d="M532.5,494 C527.4,494 523.3,497.4 523.3,501.6 C523.3,505.8 527.4,509.2 532.5,509.2 C533.8,509.2 535,509 536.1,508.6 L539.6,510.5 L538.8,507.4 C540.7,506 541.8,504 541.8,501.6 C541.8,497.4 537.6,494 532.5,494 Z"/>
</g>
<g fill="#9a9a9a"><circle cx="518" cy="494" r="0.9"/><circle cx="525.5" cy="494" r="0.9"/><circle cx="529.5" cy="499.5" r="0.8"/><circle cx="535.5" cy="499.5" r="0.8"/></g>
</svg>
</body></html>
